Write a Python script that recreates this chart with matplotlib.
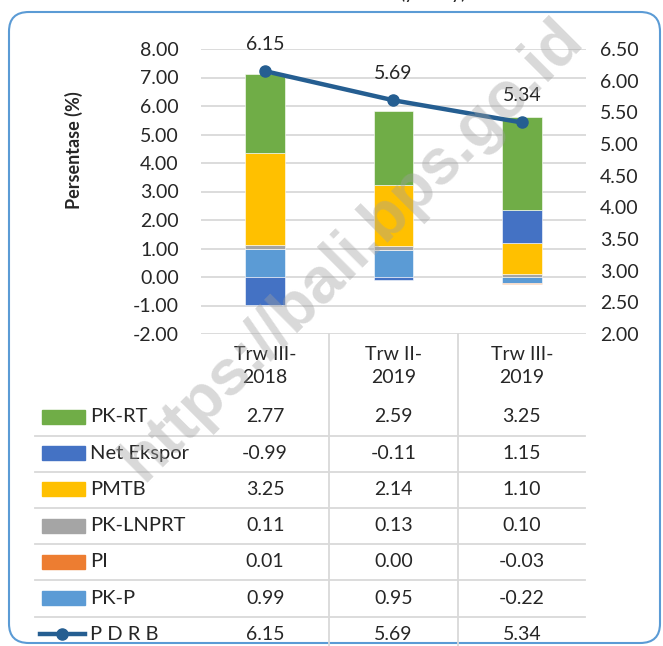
import numpy as np
import matplotlib.pyplot as plt
from matplotlib.patches import FancyBboxPatch, Rectangle
from matplotlib.lines import Line2D
from matplotlib.transforms import blended_transform_factory

plt.rcParams['font.family'] = ['Lato', 'DejaVu Sans']

periods = ['Trw III-\n2018', 'Trw II-\n2019', 'Trw III-\n2019']

# komponen, urut dari bawah tumpukan (urutan seri Excel)
pk_p = [0.99, 0.95, -0.22]
pi = [0.01, 0.00, -0.03]
pk_lnprt = [0.11, 0.13, 0.10]
pmtb = [3.25, 2.14, 1.10]
net_ekspor = [-0.99, -0.11, 1.15]
pk_rt = [2.77, 2.59, 3.25]
pdrb = [6.15, 5.69, 5.34]

series = [('PK-P', pk_p, '#5B9BD5'),
          ('PI', pi, '#ED7D31'),
          ('PK-LNPRT', pk_lnprt, '#A5A5A5'),
          ('PMTB', pmtb, '#FFC000'),
          ('Net Ekspor', net_ekspor, '#4472C4'),
          ('PK-RT', pk_rt, '#70AD47')]
line_color = '#255E91'
txt = '#262626'
grid_c = '#D9D9D9'

W, H = 663, 646
fx = lambda px: px / W
fy = lambda py: 1 - py / H

fig = plt.figure(figsize=(W / 100, H / 100), dpi=100)

# bingkai chart
frame = FancyBboxPatch((fx(9), fy(643)), fx(651), (643 - 12) / H,
                       boxstyle='round,pad=0,rounding_size=0.03',
                       transform=fig.transFigure, fill=False,
                       edgecolor='#5B9BD5', lw=1.5)
fig.patches.append(frame)

# judul terpotong di tepi atas
fig.text(fx(433), fy(-1.5), '(y-on-y)', fontsize=14, ha='center', va='baseline', color=txt)

ax = fig.add_axes([fx(201), fy(334), 385 / W, 285 / H])
x = np.arange(len(periods))
pos_base = np.zeros(len(periods))
neg_base = np.zeros(len(periods))
for name, vals, col in series:
    vals = np.array(vals)
    base = np.where(vals >= 0, pos_base, neg_base)
    ax.bar(x, vals, 0.31, bottom=base, color=col, edgecolor='white', linewidth=0.4, zorder=2)
    pos_base += np.where(vals >= 0, vals, 0)
    neg_base += np.where(vals < 0, vals, 0)

ax.set_xlim(-0.5, 2.5)
ax.set_ylim(-2, 8)
ax.set_yticks(np.arange(-2, 8.01, 1))
ax.set_yticklabels([f'{v:.2f}' for v in np.arange(-2, 8.01, 1)])
ax.set_xticks([])
ax.grid(axis='y', color=grid_c, lw=1.3, zorder=0)
ax.set_axisbelow(True)
ax.tick_params(axis='y', length=0, pad=16, labelsize=14, labelcolor=txt)
for s in ax.spines.values():
    s.set_visible(False)
ax.patch.set_alpha(0)

ax2 = ax.twinx()
ax2.set_ylim(2, 6.5)
ax2.set_yticks(np.arange(2, 6.51, 0.5))
ax2.set_yticklabels([f'{v:.2f}' for v in np.arange(2, 6.51, 0.5)])
ax2.tick_params(axis='y', length=0, pad=10, labelsize=14, labelcolor=txt)
for s in ax2.spines.values():
    s.set_visible(False)
ax2.plot(x, pdrb, color=line_color, lw=3.2, marker='o', markersize=8, zorder=3)
for xi, v in zip(x, pdrb):
    ax2.annotate(f'{v:.2f}', (xi, v), xytext=(0, 13), textcoords='offset points',
                 ha='center', va='bottom', fontsize=14, color=txt)

fig.text(fx(74), fy(150), 'Persentase (%)', rotation=90, ha='center', va='center',
         fontsize=13, fontweight='bold', color=txt)

# tabel data di bawah sumbu
tr = blended_transform_factory(ax.transData, fig.transFigure)
for xi, p in zip(x, periods):
    fig.text(xi, fy(366), p, transform=tr, ha='center', va='center',
             fontsize=14, color=txt, linespacing=1.45)

rows = [(n, v, c) for n, v, c in reversed(series)] + [('P D R B', pdrb, line_color)]
row_y = [417 + 36.2 * i for i in range(len(rows))]
for (name, vals, col), ry in zip(rows, row_y):
    if name == 'P D R B':
        fig.lines.append(Line2D([fx(40), fx(85)], [fy(ry), fy(ry)], color=col, lw=3.2,
                                transform=fig.transFigure))
        fig.lines.append(Line2D([fx(62)], [fy(ry)], color=col, marker='o', markersize=8,
                                transform=fig.transFigure))
    else:
        fig.patches.append(Rectangle((fx(42), fy(ry + 7)), 43 / W, 14 / H, color=col,
                                     transform=fig.transFigure))
    fig.text(fx(90), fy(ry), name, ha='left', va='center', fontsize=14.5, color=txt)
    for xi, v in zip(x, vals):
        fig.text(xi, fy(ry), f'{v:.2f}', transform=tr, ha='center', va='center',
                 fontsize=14, color=txt)

for ry in row_y[:-1]:
    fig.lines.append(Line2D([fx(35), fx(585)], [fy(ry + 18.5), fy(ry + 18.5)],
                            color=grid_c, lw=1.3, transform=fig.transFigure))
for xv in [0.5, 1.5]:
    fig.lines.append(Line2D([xv, xv], [fy(334), 0], color=grid_c, lw=1.3, transform=tr))

# watermark
fig.text(fx(352), fy(250), 'https://bali.bps.go.id', rotation=45, rotation_mode='anchor',
         ha='center', va='center', fontsize=46, fontweight='bold',
         family='Liberation Sans', color='#a0a0a0', alpha=0.4, zorder=20)

fig.savefig('out.png', dpi=100)
